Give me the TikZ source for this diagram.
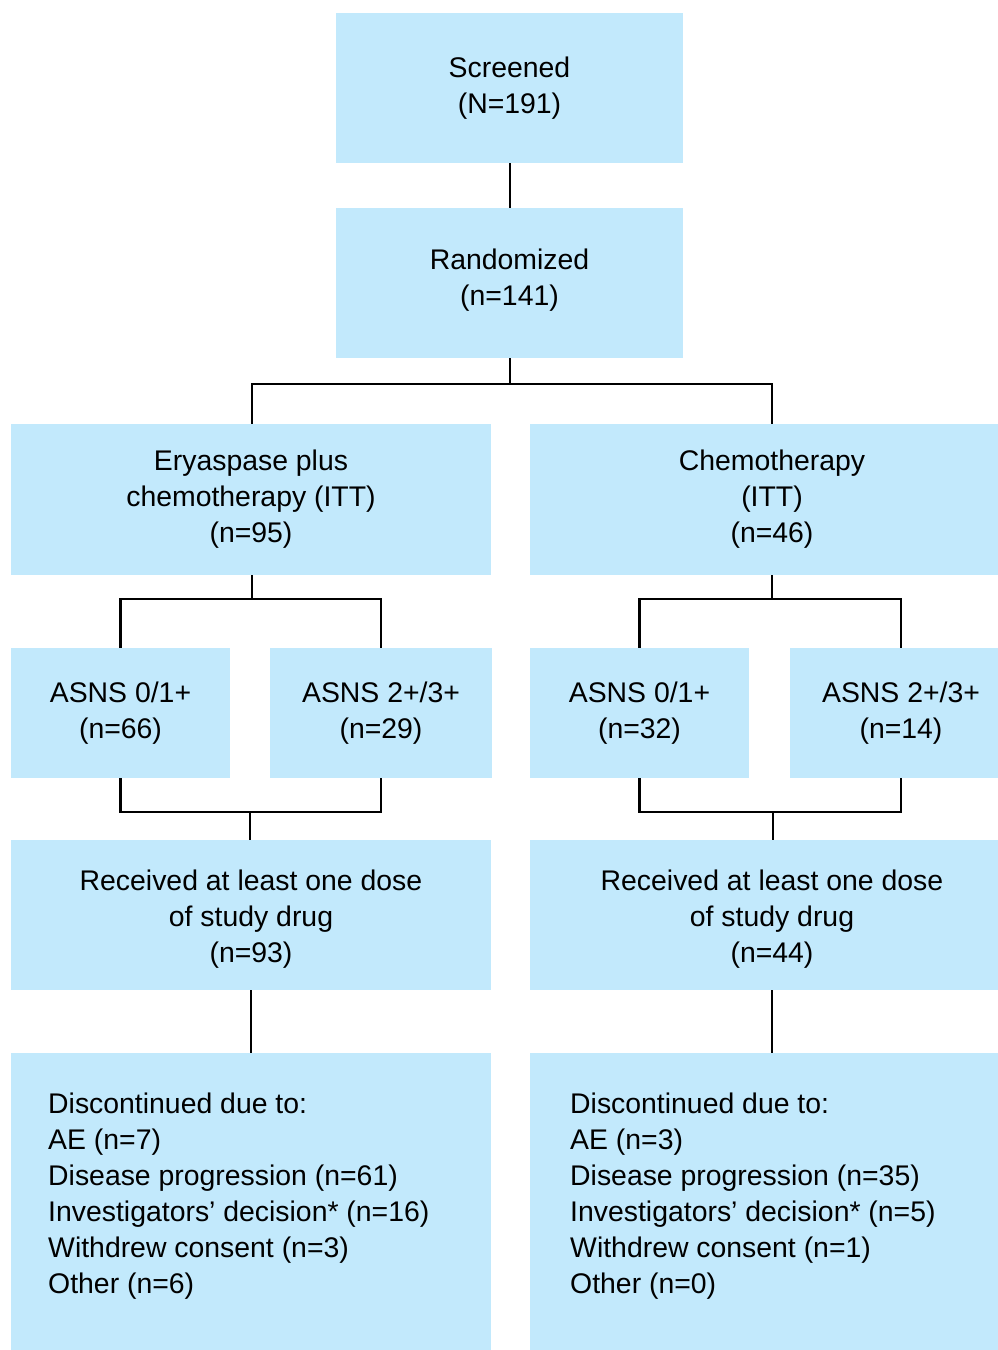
\documentclass[tikz,border=0pt]{standalone}
\usepackage{fontspec}
\setmainfont{Liberation Sans}
\definecolor{boxblue}{HTML}{C2E9FC}
\tikzset{
  box/.style={fill=boxblue, draw=none, inner sep=0pt, align=center,
    font=\fontsize{28.4}{36}\selectfont},
  listtext/.style={inner sep=0pt, align=left, anchor=north west,
    font=\fontsize{28.4}{36}\selectfont},
  conn/.style={draw=black, line width=2.6pt},
}
\begin{document}
\begin{tikzpicture}[x=1pt,y=-1pt]
\useasboundingbox (0,0) rectangle (998,1350);
\clip (0,0) rectangle (998,1350);
% top boxes
\node[box, minimum width=347pt, minimum height=150pt] (scr) at (509.5,88) {Screened\\(N=191)};
\node[box, minimum width=347pt, minimum height=150pt] (rand) at (509.5,283) {};
\node[box, fill=none] (randt) at (509.5,280) {Randomized\\(n=141)};
% arms
\node[box, minimum width=480pt, minimum height=151pt] (ery) at (251,499.5) {Eryaspase plus\\chemotherapy (ITT)\\(n=95)};
\node[box, minimum width=484pt, minimum height=151pt] (chemo) at (772,499.5) {Chemotherapy\\(ITT)\\(n=46)};
% ASNS
\node[box, minimum width=219pt, minimum height=130pt] (asL1) at (120.5,713) {ASNS 0/1+\\(n=66)};
\node[box, minimum width=222pt, minimum height=130pt] (asL2) at (381,713) {ASNS 2+/3+\\(n=29)};
\node[box, minimum width=219pt, minimum height=130pt] (asR1) at (639.5,713) {ASNS 0/1+\\(n=32)};
\node[box, minimum width=222pt, minimum height=130pt] (asR2) at (901,713) {ASNS 2+/3+\\(n=14)};
% received
\node[box, minimum width=480pt, minimum height=150pt] (recL) at (251,915) {};
\node[box, minimum width=484pt, minimum height=150pt] (recR) at (772,915) {};
\node[box, fill=none] (recLt) at (251,919) {Received at least one dose\\of study drug\\(n=93)};
\node[box, fill=none] (recRt) at (772,919) {Received at least one dose\\of study drug\\(n=44)};
% discontinued
\node[box, minimum width=480pt, minimum height=310pt, anchor=north west] (disL) at (11,1053) {};
\node[box, minimum width=484pt, minimum height=310pt, anchor=north west] (disR) at (530,1053) {};
\node[listtext] (disLt) at (48,1093) {Discontinued due to:\\AE (n=7)\\Disease progression (n=61)\\Investigators’ decision* (n=16)\\Withdrew consent (n=3)\\Other (n=6)};
\node[listtext] (disRt) at (570,1093) {Discontinued due to:\\AE (n=3)\\Disease progression (n=35)\\Investigators’ decision* (n=5)\\Withdrew consent (n=1)\\Other (n=0)};
% junctions
\coordinate (jT) at (510,384);
\coordinate (jL) at (252,599);
\coordinate (jR) at (772,599);
\coordinate (bL) at (250,812);
\coordinate (bR) at (773,812);
% connectors
\draw[conn] (jT |- scr.south) -- (jT |- rand.north);
\draw[conn] (jT |- rand.south) -- (jT);
\draw[conn] (jL |- ery.north) |- (jT) -| (chemo.north);
\draw[conn] (jL |- ery.south) -- (jL);
\draw[conn] (asL1.north) |- (jL) -| (asL2.north);
\draw[conn] (chemo.south) -- (jR);
\draw[conn] (asR1.north) |- (jR) -| (asR2.north);
\draw[conn] (asL1.south) |- (bL) -| (asL2.south);
\draw[conn] (bL) -- (recL.north -| bL);
\draw[conn] (asR1.south) |- (bR) -| (asR2.south);
\draw[conn] (bR) -- (recR.north -| bR);
\draw[conn] (recL.south) -- (disL.north -| recL.south);
\draw[conn] (recR.south) -- (disR.north -| recR.south);
\end{tikzpicture}
\end{document}
